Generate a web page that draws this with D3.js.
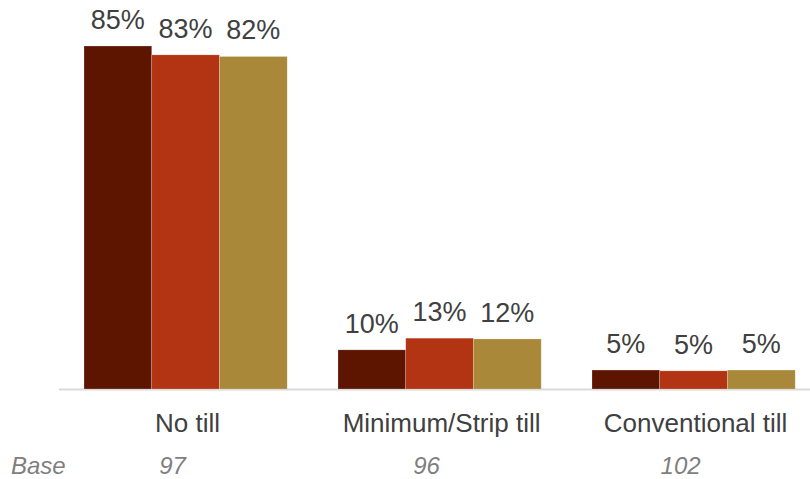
<!DOCTYPE html>
<html>
<head>
<meta charset="utf-8">
<script src="https://d3js.org/d3.v7.min.js"></script>
<style>
  body { margin: 0; background: #fff; }
  svg { display: block; font-family: "Liberation Sans", Arial, sans-serif; }
</style>
</head>
<body>
<svg id="chart"></svg>
<script>
// ---------------- data ----------------
var categories = ['No till', 'Minimum/Strip till', 'Conventional till'];
var seriesKeys = ['s1', 's2', 's3'];
var seriesColors = ['#5e1500', '#b33413', '#a98839'];
// bar heights (percent)
var s1Values = [85, 9.7, 4.7];
var s2Values = [82.8, 12.6, 4.5];
var s3Values = [82.4, 12.4, 4.7];
// printed labels
var s1Labels = ['85%', '10%', '5%'];
var s2Labels = ['83%', '13%', '5%'];
var s3Labels = ['82%', '12%', '5%'];
var baseLabel = 'Base';
var baseValues = ['97', '96', '102'];

// ---------------- layout ----------------
var width = 810, height = 479;
var baseline = 389;

var svg = d3.select('#chart')
  .attr('width', width)
  .attr('height', height);

var values = [s1Values, s2Values, s3Values];
var labels = [s1Labels, s2Labels, s3Labels];

var rows = [];
categories.forEach(function(c, ci) {
  seriesKeys.forEach(function(k, si) {
    rows.push({cat: c, key: k, si: si, value: values[si][ci], label: labels[si][ci]});
  });
});

var x0 = d3.scaleBand()
  .domain(categories)
  .range([58.6, 820.6])
  .paddingInner(0.2)
  .paddingOuter(0.1);

var x1 = d3.scaleBand()
  .domain(seriesKeys)
  .range([0, x0.bandwidth()]);

var y = d3.scaleLinear()
  .domain([0, 85])
  .range([baseline, 46]);

// axis line
svg.append('line')
  .attr('x1', 59).attr('x2', width)
  .attr('y1', baseline + 0.5).attr('y2', baseline + 0.5)
  .attr('stroke', '#d9d9d9')
  .attr('stroke-width', 2);

// bars
svg.selectAll('rect.bar')
  .data(rows)
  .enter()
  .append('rect')
    .classed('bar', true)
    .attr('x', d => x0(d.cat) + x1(d.key))
    .attr('y', d => y(d.value))
    .attr('width', x1.bandwidth())
    .attr('height', d => baseline - y(d.value))
    .attr('fill', d => seriesColors[d.si])
    .attr('stroke', 'rgba(255,255,255,0.35)')
    .attr('stroke-width', 0.6);

// value labels
svg.selectAll('text.val')
  .data(rows)
  .enter()
  .append('text')
    .classed('val', true)
    .attr('x', d => x0(d.cat) + x1(d.key) + x1.bandwidth() / 2)
    .attr('y', d => y(d.value) - 17)
    .attr('text-anchor', 'middle')
    .attr('font-size', '27px')
    .attr('fill', '#404040')
    .text(d => d.label);

// category labels
svg.selectAll('text.cat')
  .data(categories)
  .enter()
  .append('text')
    .classed('cat', true)
    .attr('x', d => x0(d) + x0.bandwidth() / 2 + 2)
    .attr('y', 432)
    .attr('text-anchor', 'middle')
    .attr('font-size', '26px')
    .attr('fill', '#404040')
    .text(d => d);

// base row
svg.append('text')
  .attr('x', 11)
  .attr('y', 474)
  .attr('font-size', '24px')
  .attr('font-style', 'italic')
  .attr('fill', '#7f7f7f')
  .text(baseLabel);

svg.selectAll('text.base')
  .data(baseValues)
  .enter()
  .append('text')
    .classed('base', true)
    .attr('x', (d, i) => x0(categories[i]) + x0.bandwidth() / 2 - 13)
    .attr('y', 474)
    .attr('text-anchor', 'middle')
    .attr('font-size', '24px')
    .attr('font-style', 'italic')
    .attr('fill', '#7f7f7f')
    .text(d => d);
</script>
</body>
</html>
